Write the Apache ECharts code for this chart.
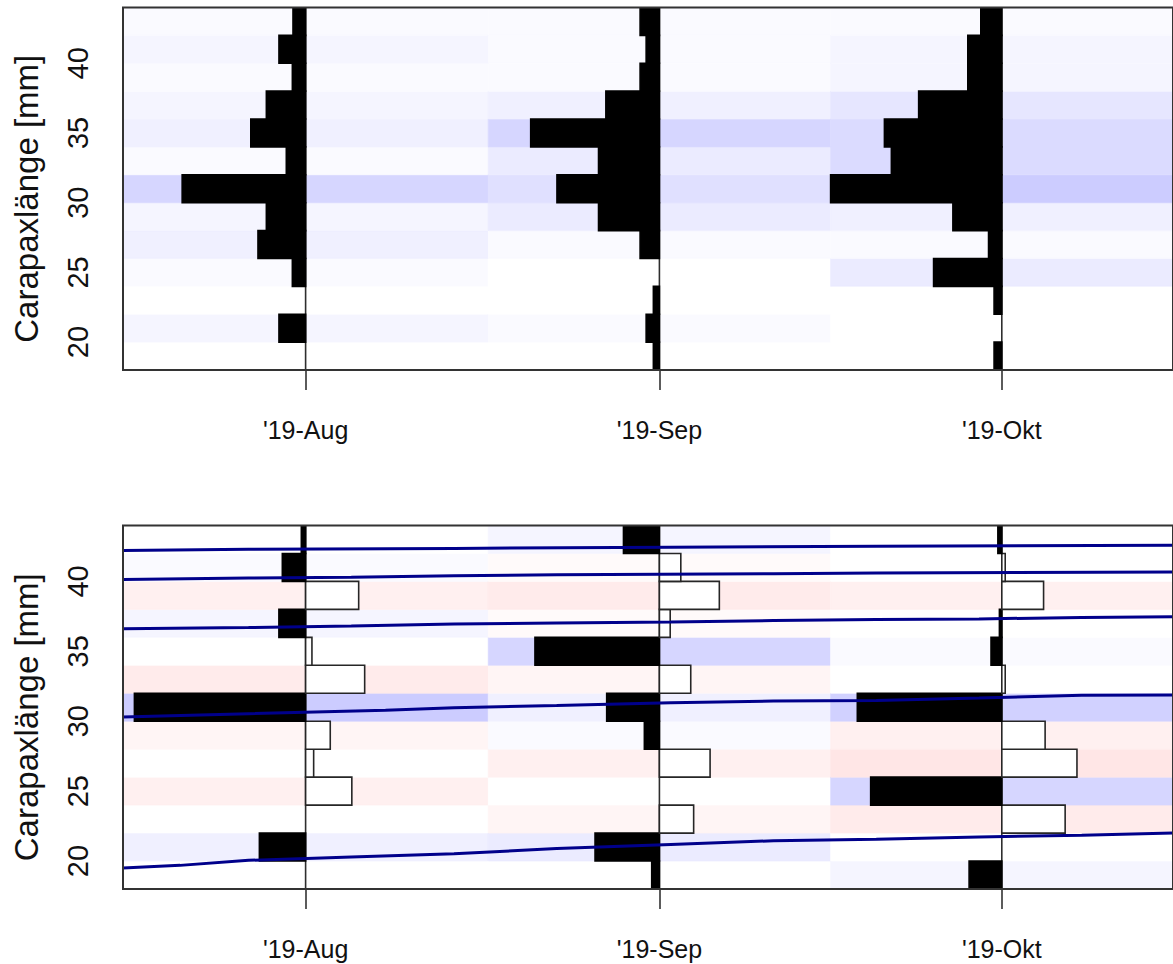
<!DOCTYPE html>
<html>
<head>
<meta charset="utf-8">
<script src="https://cdn.jsdelivr.net/npm/echarts@6/dist/echarts.min.js"></script>
<style>
  html, body { margin: 0; padding: 0; background: #ffffff; }
  #chart { width: 1173px; height: 964px; }
</style>
</head>
<body>
<div id="chart"></div>
<script>
// ---- length classes (mid-lengths, mm) and sampling dates (days after 1 Aug 2019) ----
const lengthClasses = [19, 21, 23, 25, 27, 29, 31, 33, 35, 37, 39, 41, 43];
const sampleDays = [0, 31, 61];
const sampleLabels = ["'19-Aug", "'19-Sep", "'19-Okt"];
const cellEdges = [-16, 16, 46, 76];   // x extent of each sample's image column
const lengthTicks = [20, 25, 30, 35, 40];

// ---- catch per length class (ascending classes) ----
const catchAug = [0, 2.07, 0, 1.03, 3.7, 3.05, 9.59, 1.5, 4.26, 3.05, 1.03, 2.07, 0.98];
const catchSep = [0.47, 1.03, 0.47, 0, 1.5, 4.73, 7.96, 4.73, 10.0, 4.16, 1.5, 1.03, 1.5];
const catchOkt = [0.6, 0, 0.6, 5.3, 1.03, 3.8, 13.3, 8.58, 9.12, 6.46, 2.64, 2.64, 1.63];

// ---- restructured scores per length class (ascending classes) ----
const rcountAug = [0, 0.27, 0, -0.27, -0.047, -0.144, 1.0, -0.345, -0.037, 0.156, -0.31, 0.136, 0.025];
const rcountSep = [0.045, 0.376, -0.2, 0, -0.296, 0.088, 0.308, -0.183, 0.727, -0.063, -0.35, -0.125, 0.21];
const rcountOkt = [0.191, 0, -0.37, 0.766, -0.439, -0.253, 0.844, -0.02, 0.063, 0.014, -0.244, -0.02, 0.023];

// ---- fitted growth curves: [day, length mm] ----
const cohortA = [[-16, 42.22], [-5, 42.30], [13, 42.36], [32, 42.45], [50, 42.52], [76, 42.58]];
const cohortB = [[-16, 40.14], [-5, 40.24], [4, 40.30], [13, 40.40], [22, 40.48], [41, 40.55], [50, 40.60], [76, 40.68]];
const cohortC = [[-16, 36.62], [-5, 36.70], [4, 36.82], [13, 36.95], [22, 37.03], [32, 37.10], [41, 37.20], [50, 37.27], [59, 37.32], [68, 37.42], [76, 37.47]];
const cohortD = [[-16, 30.30], [-5, 30.54], [7, 30.78], [13, 30.97], [22, 31.13], [32, 31.33], [41, 31.44], [50, 31.49], [59, 31.66], [68, 31.85], [76, 31.88]];
const cohortE = [[-16, 19.50], [-11, 19.69], [-5, 20.05], [4, 20.29], [13, 20.53], [22, 20.89], [32, 21.19], [41, 21.45], [50, 21.55], [59, 21.72], [68, 21.85], [76, 22.0]];

// ---- derived helpers ----
const HIST_SC = 0.5;
const binWidth = lengthClasses[1] - lengthClasses[0];
const yMin = lengthClasses[0] - binWidth / 2;
const yMax = lengthClasses[lengthClasses.length - 1] + binWidth / 2;
const minDiff = Math.min(...sampleDays.slice(1).map((d, i) => d - sampleDays[i]));

function maxAbs(cols) { return Math.max(...cols.flat().map(Math.abs)); }

// red - white - blue ramp, split into 21 classes over a balanced range
function ramp(t) {
  const lo = [255, 204, 204], mid = [255, 255, 255], hi = [204, 204, 255];
  let a, b, u;
  if (t <= 0.5) { a = lo; b = mid; u = t / 0.5; } else { a = mid; b = hi; u = (t - 0.5) / 0.5; }
  const c = a.map((v, i) => Math.round(v + (b[i] - v) * u));
  return 'rgb(' + c.join(',') + ')';
}
function pieces(m) {
  const n = 21, w = 2 * m / n, out = [];
  for (let i = 0; i < n; i++) {
    const p = { lte: -m + (i + 1) * w, color: ramp(i / (n - 1)) };
    if (i === 0) p.gte = -m - 1; else p.gt = -m + i * w;
    if (i === n - 1) p.lte = m + 1;
    out.push(p);
  }
  return out;
}

function cellData(cols) {
  const out = [];
  cols.forEach((col, s) => col.forEach((v, j) => {
    out.push([cellEdges[s], cellEdges[s + 1], lengthClasses[j] - binWidth / 2, lengthClasses[j] + binWidth / 2, v]);
  }));
  return out;
}
function barData(cols) {
  const out = [];
  cols.forEach((col, s) => col.forEach((v, j) => {
    if (v !== 0) out.push([sampleDays[s], lengthClasses[j] - binWidth / 2, lengthClasses[j] + binWidth / 2, v]);
  }));
  return out;
}

function renderCell(params, api) {
  const a = api.coord([api.value(0), api.value(3)]);
  const b = api.coord([api.value(1), api.value(2)]);
  const fill = api.visual('color');
  return {
    type: 'rect',
    shape: { x: a[0], y: a[1], width: b[0] - a[0], height: b[1] - a[1] },
    style: { fill: fill, stroke: fill, lineWidth: 0.6 }
  };
}
function makeBarRenderer(scale) {
  return function (params, api) {
    const d = api.value(0), y0 = api.value(1), y1 = api.value(2), v = api.value(3);
    const a = api.coord([d - v * scale, y1]);
    const b = api.coord([d, y0]);
    return {
      type: 'rect',
      shape: { x: Math.min(a[0], b[0]), y: a[1], width: Math.abs(b[0] - a[0]), height: b[1] - a[1] },
      style: { fill: v > 0 ? '#000000' : '#ffffff', stroke: v > 0 ? '#000000' : '#262626', lineWidth: 1.6 }
    };
  };
}
function renderSampleLine(params, api) {
  const a = api.coord([api.value(0), yMin]);
  const b = api.coord([api.value(0), yMax]);
  return {
    type: 'line',
    shape: { x1: a[0], y1: a[1], x2: b[0], y2: b[1] },
    style: { stroke: '#2e2e2e', lineWidth: 1.6 }
  };
}

const catchCols = [catchAug, catchSep, catchOkt];
const rcountCols = [rcountAug, rcountSep, rcountOkt];
const catchMax = maxAbs(catchCols);
const rcountMax = maxAbs(rcountCols);

const FONT = "'Liberation Sans', Arial, sans-serif";

const grids = [
  { left: 123, top: 7.5, width: 1054, height: 362.5 },
  { left: 123, top: 525.5, width: 1054, height: 363.5 }
].map(g => Object.assign(g, {
  show: true, z: 10, backgroundColor: 'transparent', borderColor: '#333333', borderWidth: 2
}));

const xAxes = [0, 1].map(i => ({
  gridIndex: i, type: 'value', min: cellEdges[0], max: cellEdges[cellEdges.length - 1],
  axisLine: { show: false }, splitLine: { show: false },
  axisTick: { show: true, customValues: sampleDays, length: 20, lineStyle: { color: '#333333', width: 1.6 } },
  axisLabel: {
    customValues: sampleDays, margin: 47, fontSize: 25, color: '#111111', fontFamily: FONT,
    formatter: v => sampleLabels[sampleDays.indexOf(v)]
  }
}));

const yAxes = [0, 1].map(i => ({
  gridIndex: i, type: 'value', min: yMin, max: yMax,
  axisLine: { show: false }, splitLine: { show: false },
  axisTick: { show: true, customValues: lengthTicks, length: 13, lineStyle: { color: '#333333', width: 1.6 } },
  axisLabel: { customValues: lengthTicks, rotate: 90, margin: 31, fontSize: 29, color: '#111111', fontFamily: FONT },
  name: 'Carapaxlänge [mm]', nameLocation: 'middle', nameRotate: 90, nameGap: 80,
  nameTextStyle: { fontSize: 33, color: '#111111', fontFamily: FONT, padding: [0, 20, 0, 0] }
}));

const curveSeries = [cohortA, cohortB, cohortC, cohortD, cohortE].map(c => ({
  type: 'line', xAxisIndex: 1, yAxisIndex: 1, data: c, showSymbol: false, symbol: 'none',
  lineStyle: { color: '#00008b', width: 3 }, z: 6, silent: true, clip: true
}));

const option = {
  animation: false,
  backgroundColor: '#ffffff',
  grid: grids,
  xAxis: xAxes,
  yAxis: yAxes,
  visualMap: [
    { type: 'piecewise', show: false, seriesIndex: 0, dimension: 4, pieces: pieces(catchMax) },
    { type: 'piecewise', show: false, seriesIndex: 3, dimension: 4, pieces: pieces(rcountMax) }
  ],
  series: [
    // catch panel
    { type: 'custom', xAxisIndex: 0, yAxisIndex: 0, renderItem: renderCell, data: cellData(catchCols),
      encode: { x: [0, 1], y: [2, 3] }, clip: true, z: 1, silent: true },
    { type: 'custom', xAxisIndex: 0, yAxisIndex: 0, renderItem: renderSampleLine, data: sampleDays.map(d => [d]),
      encode: { x: 0 }, clip: true, z: 2, silent: true },
    { type: 'custom', xAxisIndex: 0, yAxisIndex: 0, renderItem: makeBarRenderer(HIST_SC * minDiff / catchMax),
      data: barData(catchCols), encode: { x: 0, y: [1, 2] }, clip: true, z: 3, silent: true },
    // restructured panel
    { type: 'custom', xAxisIndex: 1, yAxisIndex: 1, renderItem: renderCell, data: cellData(rcountCols),
      encode: { x: [0, 1], y: [2, 3] }, clip: true, z: 1, silent: true },
    { type: 'custom', xAxisIndex: 1, yAxisIndex: 1, renderItem: renderSampleLine, data: sampleDays.map(d => [d]),
      encode: { x: 0 }, clip: true, z: 2, silent: true },
    { type: 'custom', xAxisIndex: 1, yAxisIndex: 1, renderItem: makeBarRenderer(HIST_SC * minDiff / rcountMax),
      data: barData(rcountCols), encode: { x: 0, y: [1, 2] }, clip: true, z: 3, silent: true }
  ].concat(curveSeries)
};

const chart = echarts.init(document.getElementById('chart'), null, { renderer: 'svg' });
chart.setOption(option);
</script>
</body>
</html>
